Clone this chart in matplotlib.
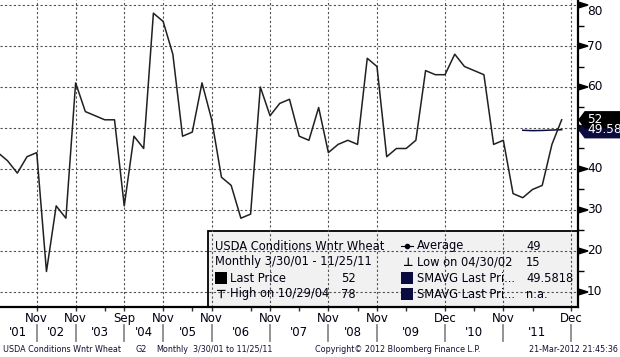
import matplotlib
matplotlib.use("Agg")
from matplotlib import pyplot as plt
from matplotlib import transforms
from matplotlib.patches import Rectangle, Polygon
from matplotlib.lines import Line2D

W, H = 620, 357

# USDA winter wheat conditions, monthly 3/30/01 .. 11/25/11
conditions = [44, 42, 39, 43, 44, 15, 31, 28, 61, 54,
              53, 52, 52, 31, 48, 45, 78, 76, 68, 48,
              49, 61, 52, 38, 36, 28, 29, 60, 53, 56,
              57, 48, 47, 55, 44, 46, 47, 46, 67, 65,
              43, 45, 45, 47, 64, 63, 63, 68, 65, 64,
              63, 46, 47, 34, 33, 35, 36, 46, 52]
smavg_start = 54
smavg = [49.45, 49.35, 49.4, 49.5, 49.58]

sep_pos = [4, 8, 13, 17, 22, 28, 34, 39, 46, 52, 59]
sep_months = ["Nov", "Nov", "Sep", "Nov", "Nov", "Nov", "Nov", "Nov", "Dec", "Nov", "Dec"]
year_labels = ["'01", "'02", "'03", "'04", "'05", "'06", "'07", "'08", "'09", "'10", "'11"]
minor_pos = [11, 20, 26, 31, 37, 42, 49, 55]
y_major = [10, 20, 30, 40, 50, 60, 70, 80]
y_minor = [15, 25, 35, 45, 55, 65, 75]

XMIN, XMAX = 0.22, 59.68
YMIN, YMAX = 6.34, 81.22
NAVY = "#0b0b40"
TXT = "#000010"

plt.rcParams['font.family'] = ['DejaVu Sans']


def fx(x):
    return x / W


def fy(y):
    return 1 - y / H


fig = plt.figure(figsize=(W / 100, H / 100), dpi=100)
ax = fig.add_axes([0, 50 / H, 578 / W, 307 / H])
ax.set_xlim(XMIN, XMAX)
ax.set_ylim(YMIN, YMAX)

# grid
for v in y_major:
    ax.axhline(v, color="#505050", ls=(0, (2, 2)), lw=0.8, zorder=1.5)
for p in sep_pos:
    ax.axvline(p, color="#505050", ls=(0, (2, 2)), lw=0.8, zorder=1.5)

# series
xs = list(range(len(conditions)))
ax.plot(xs, conditions, color="#202020", lw=1.1, zorder=2.5)
ax.plot(range(smavg_start, smavg_start + len(smavg)), smavg, color=NAVY, lw=1.1, zorder=2.4)

# spines
for s in ["top", "left"]:
    ax.spines[s].set_visible(False)
for s in ["right", "bottom"]:
    ax.spines[s].set_linewidth(1.6)
    ax.spines[s].set_color("black")

# y axis on right (labels drawn as text so the top one can sit inside the figure)
ax.yaxis.tick_right()
ax.set_yticks(y_major)
ax.set_yticklabels([])
ax.set_yticks(y_minor, minor=True)
ax.tick_params(axis="y", which="major", length=0)
ax.tick_params(axis="y", which="minor", length=4.5, width=1.0, color="black")
ytr = transforms.blended_transform_factory(ax.transAxes, ax.transData)
for v in y_major:
    ax.add_patch(Polygon([(1.0, v - 0.75), (1.0, v + 0.75), (1 + 10 / 578, v)],
                         closed=True, color="black", transform=ytr, clip_on=False))
    if v == 50:
        continue
    tr = ytr if v != 80 else transforms.offset_copy(ytr, fig, y=-6, units="dots")
    ax.text(1 + 9 / 578, v, str(v), transform=tr, va="center", ha="left",
            fontsize=8.7, color=TXT, clip_on=False)

# x axis
ax.set_xticks(sep_pos)
ax.set_xticklabels(sep_months)
ax.set_xticks(minor_pos, minor=True)
ax.tick_params(axis="x", which="both", length=3, width=1.0, color="#303030",
               pad=0.5, labelsize=8.5, labelcolor=TXT)
xtr = transforms.blended_transform_factory(ax.transData, ax.transAxes)
edges = [XMIN] + sep_pos
for i, lab in enumerate(year_labels):
    mid = (edges[i] + edges[i + 1]) / 2
    ax.text(mid, -26 / 307, lab, transform=xtr, ha="center", va="center",
            fontsize=8.5, color=TXT)
for p in sep_pos:
    ax.plot([p, p], [-18 / 307, -34 / 307], transform=xtr, clip_on=False,
            color="#8a8a8a", lw=1.3)


# last value tags
def tag(v, text, color):
    hh = 1.95
    pts = [(1 + 1 / 578, v), (1 + 7 / 578, v + hh), (1 + 50 / 578, v + hh),
           (1 + 50 / 578, v - hh), (1 + 7 / 578, v - hh)]
    ax.add_patch(Polygon(pts, closed=True, color=color, transform=ytr, clip_on=False, zorder=5))
    ax.text(1 + 9 / 578, v, text, transform=ytr, color="white", fontsize=8.7,
            va="center", ha="left", zorder=6, clip_on=False)


tag(smavg[-1], "49.58", NAVY)
tag(conditions[-1], "52", "black")

# legend box
ax.add_patch(Rectangle((208 / 578, 0), 370 / 578, 76 / 307, transform=ax.transAxes,
                       facecolor="#f1f1f1", edgecolor="black", lw=1.3, zorder=1))

LS = 8.3
rows = [246, 262, 278, 294]
fig.text(fx(215), fy(rows[0]), "USDA Conditions Wntr Wheat", fontsize=LS, va="center", color=TXT)
fig.text(fx(215), fy(rows[1]), "Monthly 3/30/01 - 11/25/11", fontsize=LS, va="center", color=TXT)
fig.add_artist(Rectangle((fx(215), fy(284)), 12 / W, 12 / H, transform=fig.transFigure,
                         facecolor="black", edgecolor="none"))
fig.text(fx(230), fy(rows[2]), "Last Price", fontsize=LS, va="center", color=TXT)
fig.text(fx(356), fy(rows[2]), "52", fontsize=LS, va="center", ha="right", color=TXT)
fig.text(fx(215), fy(rows[3]), "\u22a4", fontsize=LS, va="center", color="black", weight="bold")
fig.text(fx(230), fy(rows[3]), "High on 10/29/04", fontsize=LS, va="center", color=TXT)
fig.text(fx(356), fy(rows[3]), "78", fontsize=LS, va="center", ha="right", color=TXT)

fig.add_artist(Line2D([fx(401), fx(413)], [fy(rows[0]), fy(rows[0])], transform=fig.transFigure,
                      color=TXT, lw=0.8))
fig.add_artist(Line2D([fx(407)], [fy(rows[0])], transform=fig.transFigure, marker="o",
                      markersize=3, color=TXT, lw=0))
fig.text(fx(417), fy(rows[0]), "Average", fontsize=LS, va="center", color=TXT)
fig.text(fx(526), fy(rows[0]), "49", fontsize=LS, va="center", color=TXT)
fig.text(fx(402), fy(rows[1]), "\u22a5", fontsize=LS, va="center", color="black", weight="bold")
fig.text(fx(417), fy(rows[1]), "Low on 04/30/02", fontsize=LS, va="center", color=TXT)
fig.text(fx(526), fy(rows[1]), "15", fontsize=LS, va="center", color=TXT)
for r, val in [(rows[2], "49.5818"), (rows[3], "n.a.")]:
    fig.add_artist(Rectangle((fx(401), fy(r + 6)), 12 / W, 12 / H, transform=fig.transFigure,
                             facecolor=NAVY, edgecolor="none"))
    fig.text(fx(417), fy(r), "SMAVG Last Pri...", fontsize=LS, va="center", color=TXT)
    fig.text(fx(526), fy(r), val, fontsize=LS, va="center", color=TXT)

# footer
FS = 5.8
fig.text(fx(3), fy(349), "USDA Conditions Wntr Wheat", fontsize=FS, va="center", color="#101030")
fig.text(fx(135), fy(349), "G2", fontsize=FS, va="center", color="#101030")
fig.text(fx(156), fy(349), "Monthly", fontsize=FS, va="center", color="#101030")
fig.text(fx(193), fy(349), "3/30/01 to 11/25/11", fontsize=FS, va="center", color="#101030")
fig.text(fx(315), fy(349), "Copyright\u00a9 2012 Bloomberg Finance L.P.", fontsize=FS, va="center", color="#101030")
fig.text(fx(618), fy(349), "21-Mar-2012 21:45:36", fontsize=FS, va="center", ha="right", color="#101030")

fig.savefig("out.png", dpi=100)
